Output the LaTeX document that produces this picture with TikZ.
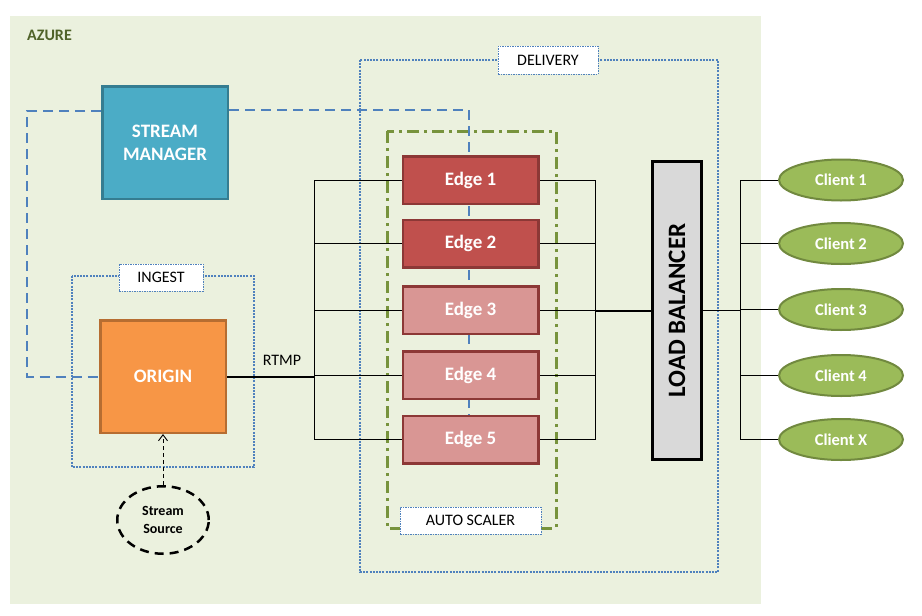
\documentclass[tikz,border=0pt]{standalone}
\usepackage{fontspec}
\setmainfont{Carlito}
\usepackage{graphicx}
\usetikzlibrary{shapes.geometric,arrows.meta}
\pgfdeclarelayer{back}
\pgfsetlayers{back,main}

\definecolor{azurebg}{HTML}{EBF1DE}
\definecolor{azuretxt}{HTML}{4F6228}
\definecolor{mgrfill}{HTML}{4BACC6}
\definecolor{mgrline}{HTML}{357D91}
\definecolor{orgfill}{HTML}{F79646}
\definecolor{orgline}{HTML}{B66D31}
\definecolor{edgedark}{HTML}{C0504D}
\definecolor{edgelight}{HTML}{D99694}
\definecolor{edgeline}{HTML}{8C3836}
\definecolor{lbfill}{HTML}{D9D9D9}
\definecolor{clientfill}{HTML}{9BBB59}
\definecolor{clientline}{HTML}{71893F}
\definecolor{dotblue}{HTML}{4F81BD}
\definecolor{scaler}{HTML}{77933C}

\newcommand{\fsz}[2]{\fontsize{#1pt}{#2pt}\selectfont}

\tikzset{
  block/.style={draw, line width=2.5pt, text=white, align=center, font=\fsz{19}{23}\bfseries},
  edgebox/.style={block, draw=edgeline, minimum width=135.5pt, minimum height=47.5pt},
  client/.style={ellipse, draw=clientline, fill=clientfill, line width=2pt, text=white,
    font=\fsz{16.5}{18}\bfseries, minimum width=124pt, minimum height=41pt, inner sep=0pt},
  tag/.style={draw=dotblue, fill=white, line width=0.6pt, dash pattern=on 1.5pt off 1pt,
    font=\fsz{16}{18}, inner sep=0pt},
  zone/.style={draw=dotblue, line width=2.5pt, dash pattern=on 2pt off 1.2pt},
  mgrlink/.style={draw=dotblue, line width=2pt, dash pattern=on 10pt off 6pt},
  wire/.style={line width=0.9pt},
}

\begin{document}
\begin{tikzpicture}[x=1pt,y=-1pt]
  \useasboundingbox (0,0) rectangle (922,616);
  \begin{pgfonlayer}{back}
    \fill[azurebg] (10,16) rectangle (761,604);
    % zones
    \draw[zone] (72,276) rectangle (254,467);
    \draw[zone] (360,60) rectangle (718,572);
    \draw[draw=scaler, line width=3pt, dash pattern=on 12pt off 5pt on 3pt off 5pt] (387,131) rectangle (556,528);
  \end{pgfonlayer}

  \node[anchor=west, text=azuretxt, font=\fsz{16}{18}\bfseries, inner sep=0pt] (azure) at (27,35) {AZURE};

  % zone labels
  \node[tag, minimum width=84pt, minimum height=27pt] (ingest) at (161,277.5) {INGEST};
  \node[tag, minimum width=100pt, minimum height=28pt] (delivery) at (548,60) {DELIVERY};
  \node[tag, minimum width=141pt, minimum height=27pt] (autoscaler) at (470.5,520.5) {AUTO SCALER};

  % manager and origin
  \node[block, draw=mgrline, fill=mgrfill, minimum width=125.5pt, minimum height=112.5pt] (sm) at (165,142.5) {STREAM\\MANAGER};
  \node[block, draw=orgline, fill=orgfill, minimum width=125.5pt, minimum height=112.5pt] (origin) at (163,376.5) {ORIGIN};
  \node[ellipse, draw, line width=2.5pt, dash pattern=on 9pt off 6pt, align=center,
    font=\fsz{14}{18}\bfseries, minimum width=91.5pt, minimum height=67.5pt, inner sep=0pt] (src) at (163,520) {Stream\\Source};
  \node[font=\fsz{16}{18}, inner sep=0pt] (rtmp) at (282,360) {RTMP};

  % edges
  \foreach \n/\yy/\c in {1/180/edgedark, 2/243.5/edgedark, 3/310/edgelight, 4/375/edgelight, 5/439.5/edgelight} {
    \node[edgebox, fill=\c] (edge\n) at (470.5,\yy) {Edge \n};
  }

  % load balancer
  \node[draw, line width=3pt, fill=lbfill, minimum width=49pt, minimum height=298pt,
    font=\fsz{25}{27}\bfseries] (lb) at (677,310.5) {\rotatebox{90}{LOAD BALANCER}};

  % clients
  \foreach \n/\t/\yy in {1/1/180, 2/2/243.5, 3/3/309.5, 4/4/375.5, 5/X/439.5} {
    \node[client] (client\n) at (841,\yy) {Client \t};
  }

  \coordinate (mgrcorner) at (27,111);
  \coordinate (mgrtop) at (469,110);
  \coordinate (trunkL) at (314,0);
  \coordinate (trunkR) at (595,0);
  \coordinate (trunkC) at (740,0);

  \begin{pgfonlayer}{back}
    % manager links
    \draw[mgrlink] (sm.west |- mgrcorner) -- (mgrcorner) |- (origin.west);
    \draw[mgrlink] (sm.east |- mgrtop) -- (mgrtop) -- (mgrtop |- edge5.north);

    % origin to edges
    \draw[line width=2pt] (origin.east) -- (trunkL |- origin.east);
    \draw[wire] (trunkL |- edge1) -- (trunkL |- edge5);
    \foreach \n in {1,...,5} {
      \draw[wire] (trunkL |- edge\n) -- (edge\n.west);
    }

    % edges to load balancer
    \draw[wire] (trunkR |- edge1) -- (trunkR |- edge5);
    \foreach \n in {1,...,5} {
      \draw[wire] (edge\n.east) -- (trunkR |- edge\n);
    }
    \draw[line width=2pt] (trunkR |- lb.west) -- (lb.west);

    % load balancer to clients
    \draw[line width=1.5pt] (lb.east) -- (trunkC |- lb.east);
    \draw[wire] (trunkC |- client1) -- (trunkC |- client5);
    \foreach \n in {1,...,5} {
      \draw[wire] (trunkC |- client\n) -- (client\n.west);
    }

    % source
    \draw[line width=0.9pt, dash pattern=on 4pt off 3pt, -{Straight Barb[length=6pt,width=9pt]}] (src.north) -- (origin.south);
  \end{pgfonlayer}
\end{tikzpicture}
\end{document}
